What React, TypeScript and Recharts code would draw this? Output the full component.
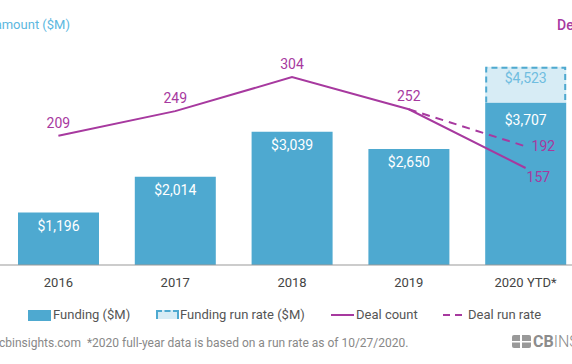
import React from 'react';
import { ComposedChart, Bar, Line, XAxis, YAxis, LabelList } from 'recharts';

const years = ['2016', '2017', '2018', '2019', '2020 YTD*'];
const funding = [1196, 2014, 3039, 2650, 3707];
const fundingRunRate: (number | null)[] = [null, null, null, null, 4523];
const dealCount = [209, 249, 304, 252, 157];
const dealRunRate: (number | null)[] = [null, null, null, 252, 192];

const BLUE = '#4ea9d0';
const LIGHT_BLUE = '#d7ecf5';
const PURPLE = '#a7399f';
const FONT = 'Roboto, "Noto Sans", sans-serif';

const data = years.map((year, i) => ({
  year,
  funding: funding[i],
  runRate: fundingRunRate[i],
  runRateExtra: fundingRunRate[i] != null ? (fundingRunRate[i] as number) - funding[i] : null,
  deals: dealCount[i],
  dealRunRate: dealRunRate[i],
}));

const money = (v: number) => '$' + v.toLocaleString('en-US');

const RunRateShape = (props: any) => {
  const { x, y, width, height } = props;
  if (!height) return null;
  return (
    <g>
      <rect x={x} y={y} width={width} height={height} fill={LIGHT_BLUE} />
      <path
        d={`M${x + 1},${y + height} L${x + 1},${y + 1} L${x + width - 1},${y + 1} L${x + width - 1},${y + height}`}
        fill="none"
        stroke={BLUE}
        strokeWidth={2}
        strokeDasharray="6 4"
      />
    </g>
  );
};

const fundingLabel = (props: any) => {
  const { x, y, width, value, index } = props;
  const off = index === 4 ? 22 : 18;
  return (
    <text x={x + width / 2} y={y + off} textAnchor="middle" fill="#fff" fontSize={14} fontFamily={FONT}>
      {money(value)}
    </text>
  );
};

const runRateLabel = (props: any) => {
  const { x, y, width, index } = props;
  const v = fundingRunRate[index];
  if (v == null) return null;
  return (
    <text x={x + width / 2} y={y + 16} textAnchor="middle" fill="#6fbde0" fontSize={14} fontFamily={FONT}>
      {money(v)}
    </text>
  );
};

const dealLabel = (props: any) => {
  const { x, y, value, index } = props;
  if (index === 4) {
    return (
      <text x={x + 1} y={y + 14} textAnchor="start" fill={PURPLE} fontSize={14} fontFamily={FONT}>
        {value}
      </text>
    );
  }
  return (
    <text x={x} y={y - 8} textAnchor="middle" fill={PURPLE} fontSize={14} fontFamily={FONT}>
      {value}
    </text>
  );
};

const runDealLabel = (props: any) => {
  const { x, y, value, index } = props;
  if (index !== 4) return null;
  return (
    <text x={x + 6} y={y + 5} textAnchor="start" fill={PURPLE} fontSize={14} fontFamily={FONT}>
      {value}
    </text>
  );
};

const legendText: React.CSSProperties = {
  position: 'absolute',
  top: 306,
  fontSize: 13,
  color: '#555',
  lineHeight: '18px',
  whiteSpace: 'nowrap',
};

export default function App() {
  return (
    <div
      style={{
        position: 'fixed',
        left: 0,
        top: 0,
        width: 572,
        height: 364,
        overflow: 'hidden',
        background: '#fff',
        fontFamily: FONT,
      }}
    >
      <ComposedChart
        width={600}
        height={364}
        data={data}
        barCategoryGap={18}
        margin={{ top: 24, right: 16, left: 0, bottom: 69 }}
      >
        <XAxis
          dataKey="year"
          height={30}
          axisLine={{ stroke: '#999' }}
          tickLine={false}
          tickMargin={7}
          tick={{ fill: '#444', fontSize: 13, fontFamily: FONT }}
        />
        <YAxis yAxisId="left" hide domain={[0, 5500]} />
        <YAxis yAxisId="right" orientation="right" hide domain={[0, 390]} />
        <Bar yAxisId="left" dataKey="funding" stackId="a" fill={BLUE} isAnimationActive={false}>
          <LabelList dataKey="funding" content={fundingLabel} />
        </Bar>
        <Bar yAxisId="left" dataKey="runRateExtra" stackId="a" shape={RunRateShape} isAnimationActive={false}>
          <LabelList dataKey="runRateExtra" content={runRateLabel} />
        </Bar>
        <Line
          yAxisId="right"
          type="linear"
          dataKey="dealRunRate"
          stroke={PURPLE}
          strokeWidth={2}
          strokeDasharray="8 6"
          dot={false}
          isAnimationActive={false}
        >
          <LabelList dataKey="dealRunRate" content={runDealLabel} />
        </Line>
        <Line
          yAxisId="right"
          type="linear"
          dataKey="deals"
          stroke={PURPLE}
          strokeWidth={2}
          dot={false}
          isAnimationActive={false}
        >
          <LabelList dataKey="deals" content={dealLabel} />
        </Line>
      </ComposedChart>

      <div style={{ position: 'absolute', right: 502, top: 16, fontSize: 13, color: '#5cb8e0', whiteSpace: 'nowrap', lineHeight: '18px' }}>
        Funding amount ($M)
      </div>
      <div style={{ position: 'absolute', left: 557, top: 16, fontSize: 14, color: PURPLE, whiteSpace: 'nowrap', lineHeight: '18px', fontWeight: 500 }}>
        Deal count
      </div>

      {/* legend */}
      <div style={{ position: 'absolute', left: 28, top: 310, width: 23, height: 11, background: BLUE }} />
      <div style={{ ...legendText, left: 53 }}>Funding ($M)</div>
      <div style={{ position: 'absolute', left: 156, top: 310, width: 19, height: 7, background: LIGHT_BLUE, border: `2px dashed ${BLUE}`, borderBottom: 'none' }} />
      <div style={{ ...legendText, left: 180 }}>Funding run rate ($M)</div>
      <div style={{ position: 'absolute', left: 331, top: 314, width: 23, height: 2, background: PURPLE }} />
      <div style={{ ...legendText, left: 356 }}>Deal count</div>
      <div style={{ position: 'absolute', left: 443, top: 314, width: 7, height: 2, background: PURPLE }} />
      <div style={{ position: 'absolute', left: 455, top: 314, width: 7, height: 2, background: PURPLE }} />
      <div style={{ ...legendText, left: 468 }}>Deal run rate</div>

      {/* footer */}
      <div style={{ position: 'absolute', left: -1, top: 335, fontSize: 12, color: '#888', whiteSpace: 'nowrap', lineHeight: '16px' }}>
        cbinsights.com&nbsp;&nbsp;*2020 full-year data is based on a run rate as of 10/27/2020.
      </div>
      <svg style={{ position: 'absolute', left: 512, top: 335 }} width={19} height={13}>
        <rect x={0} y={0} width={19} height={13} rx={2} fill="#999" />
        <rect x={8} y={0} width={2} height={13} fill="#fff" />
        <rect x={0} y={6} width={19} height={1.5} fill="#fff" />
      </svg>
      <div style={{ position: 'absolute', left: 533, top: 332, fontSize: 16, color: '#8c8c8c', whiteSpace: 'nowrap', lineHeight: '20px' }}>
        <span style={{ fontWeight: 700 }}>CB</span>
        <span style={{ fontWeight: 300 }}>INSIGHTS</span>
      </div>
    </div>
  );
}
